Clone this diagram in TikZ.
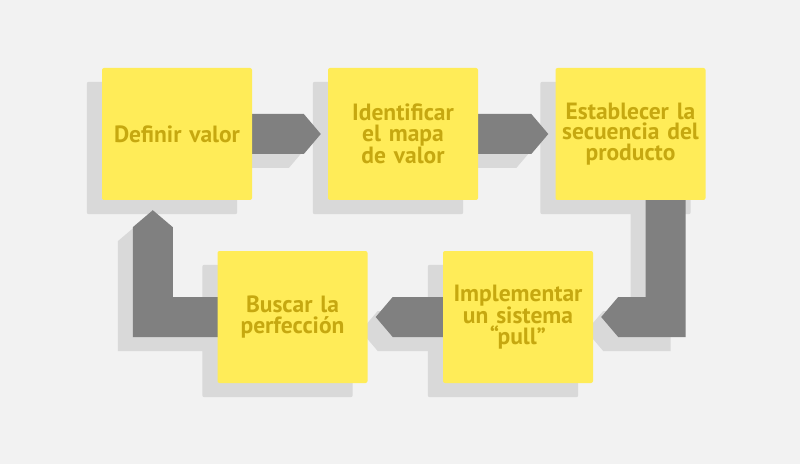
\documentclass[tikz,border=0pt]{standalone}
\usepackage{fontspec}
\setmainfont{PT Sans}
\usepackage{tikz}
\usetikzlibrary{calc,shadows,backgrounds}

\definecolor{paper}{RGB}{242,242,242}
\definecolor{stepyellow}{RGB}{255,236,88}
\definecolor{steptext}{RGB}{198,168,16}
\definecolor{arrowgray}{RGB}{128,128,128}
\definecolor{shadegray}{RGB}{217,217,217}

\begin{document}
\begin{tikzpicture}[x=1pt,y=1pt,
    stepbox/.style={fill=stepyellow, rounded corners=2pt, minimum width=150pt,
      minimum height=132pt, inner sep=0pt, text width=150pt, align=center,
      text=steptext, font=\fontsize{23.5}{20.5}\selectfont\bfseries},
    boxshade/.style={fill=shadegray, rounded corners=2pt},
    blockarrow/.style={fill=arrowgray, drop shadow={shadow xshift=-15pt,
      shadow yshift=-14pt, opacity=1, fill=shadegray}}]

  \useasboundingbox (0,0) rectangle (800,464);

  \newcommand\HW{20pt}
  \newcommand\TIP{17pt}

  % the five steps
  \node[stepbox] (def) at (177,330) {Definir valor};
  \node[stepbox] (ide) at (403,330) {Identificar\\el mapa\\de valor};
  \node[stepbox] (est) at (630.5,330) {Establecer la\\secuencia del\\producto};
  \node[stepbox] (imp) at (518,147) {Implementar\\un sistema\\``pull''};
  \node[stepbox] (bus) at (292.5,147) {Buscar la\\perfecci\'on};

  \begin{scope}[on background layer]
    \fill[paper] (0,0) rectangle (800,464);
    \foreach \n in {def,ide,est,imp,bus}
      \fill[boxshade] ($(\n.south west)+(-15,-14)$) rectangle ($(\n.north east)+(-15,-14)$);

    % def -> ide
    \fill[blockarrow] let \p1=(def.east), \p2=(ide.west) in
      (\x1-2pt,\y1+\HW) -- (\x2-7pt-\TIP,\y1+\HW) -- (\x2-7pt,\y1)
      -- (\x2-7pt-\TIP,\y1-\HW) -- (\x1-2pt,\y1-\HW) -- cycle;
    % ide -> est
    \fill[blockarrow] let \p1=(ide.east), \p2=(est.west) in
      (\x1-2pt,\y1+\HW) -- (\x2-7pt-\TIP,\y1+\HW) -- (\x2-7pt,\y1)
      -- (\x2-7pt-\TIP,\y1-\HW) -- (\x1-2pt,\y1-\HW) -- cycle;
    % est -> imp
    \fill[blockarrow] let \p1=(est.south east), \p2=(imp.east) in
      (\x1-60pt,\y1+2pt) -- (\x1-20pt,\y1+2pt) -- (\x1-20pt,\y2-\HW)
      -- (\x2+8pt+\TIP,\y2-\HW) -- (\x2+8pt,\y2) -- (\x2+8pt+\TIP,\y2+\HW)
      -- (\x1-60pt,\y2+\HW) -- cycle;
    % imp -> bus
    \fill[blockarrow] let \p1=(imp.west), \p2=(bus.east) in
      (\x1+2pt,\y1+\HW) -- (\x2+8pt+\TIP,\y1+\HW) -- (\x2+8pt,\y1)
      -- (\x2+8pt+\TIP,\y1-\HW) -- (\x1+2pt,\y1-\HW) -- cycle;
    % bus -> def
    \fill[blockarrow] let \p1=(bus.west), \p2=(def.south west) in
      (\x1+2pt,\y1+\HW) -- (\x2+51pt+\HW,\y1+\HW) -- (\x2+51pt+\HW,\y2-10pt-\TIP)
      -- (\x2+51pt,\y2-10pt) -- (\x2+51pt-\HW,\y2-10pt-\TIP)
      -- (\x2+51pt-\HW,\y1-\HW) -- (\x1+2pt,\y1-\HW) -- cycle;
  \end{scope}

\end{tikzpicture}
\end{document}
